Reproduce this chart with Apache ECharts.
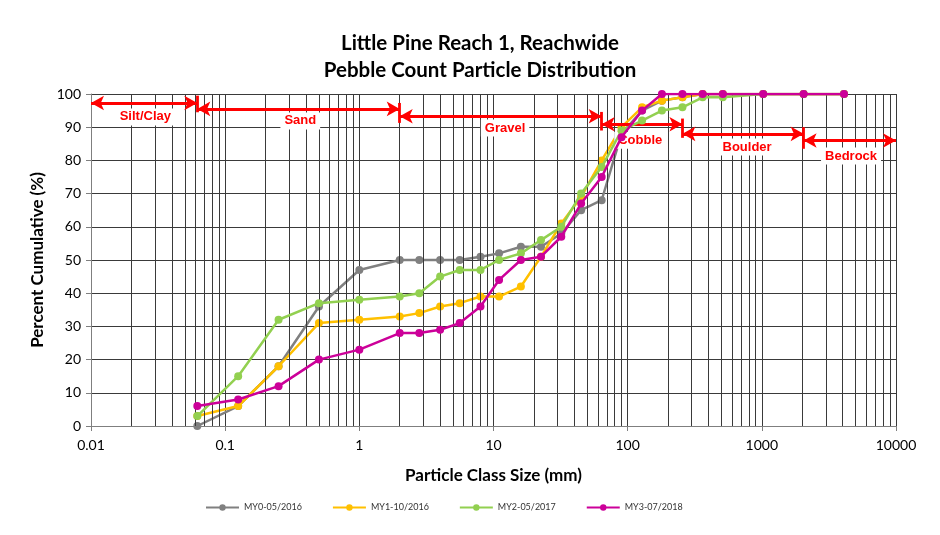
<!DOCTYPE html>
<html>
<head>
<meta charset="utf-8">
<script src="https://cdn.jsdelivr.net/npm/echarts@6/dist/echarts.min.js"></script>
<style>
  html, body { margin: 0; padding: 0; background: #fff; }
  #chart { width: 940px; height: 535px; }
</style>
</head>
<body>
<div id="chart"></div>
<script>
// Sieve sizes (mm) used for the pebble count classes
const sizes = [0.062, 0.125, 0.25, 0.5, 1, 2, 2.8, 4, 5.6, 8, 11, 16, 22.6, 32, 45, 64, 90, 128, 180, 256, 362, 512, 1024, 2048, 4096];

// Cumulative percent finer, one array per monitoring year
const my0 = [0, 6, 18, 36, 47, 50, 50, 50, 50, 51, 52, 54, 54, 58, 65, 68, 88, 95, 98, 99, 100, 100, 100, 100, 100];
const my1 = [3, 6, 18, 31, 32, 33, 34, 36, 37, 39, 39, 42, 51, 61, 69, 80, 90, 96, 98, 99, 100, 100, 100, 100, 100];
const my2 = [3, 15, 32, 37, 38, 39, 40, 45, 47, 47, 50, 52, 56, 60, 70, 78, 89, 92, 95, 96, 99, 99, 100, 100, 100];
const my3 = [6, 8, 12, 20, 23, 28, 28, 29, 31, 36, 44, 50, 51, 57, 67, 75, 87, 95, 100, 100, 100, 100, 100, 100, 100];

const seriesNames = ['MY0-05/2016', 'MY1-10/2016', 'MY2-05/2017', 'MY3-07/2018'];
const seriesColors = ['#808080', '#FFC000', '#92D050', '#CC0099'];
const seriesValues = [my0, my1, my2, my3];

const xTickLabels = ['0.01', '0.1', '1', '10', '100', '1000', '10000'];
const yTicks = [0, 10, 20, 30, 40, 50, 60, 70, 80, 90, 100];

// Size class boundaries (mm) and their names
const classNames = ['Silt/Clay', 'Sand', 'Gravel', 'Cobble', 'Boulder', 'Bedrock'];
const classBounds = [0.01, 0.062, 2, 64, 256, 2048, 10000];

// Minor log grid lines at 2..9 within every decade
const minorGrid = [];
for (let d = -2; d < 4; d++) {
  for (let m = 2; m <= 9; m++) minorGrid.push(+(m * Math.pow(10, d)).toPrecision(3));
}

const FONT = 'Lato, "Open Sans", sans-serif';
const RED = '#FF0000';

// Layout of the class annotations (arrow height, bar span, label spot)
const arrowY = [97.3, 95.5, 93.3, 90.9, 88.0, 86.0];
const barSpan = [[99.5, 94.5], [97.3, 91.3], [94.6, 89.0], [92.6, 86.8], [90.0, 83.5]];
const labelSpot = [[0.0254, 93.1], [0.363, 91.9], [12.2, 89.75], [124, 86.1], [776, 84.0], [4624, 81.3]];

const chart = echarts.init(document.getElementById('chart'), null, { renderer: 'canvas' });

const dataSeries = seriesValues.map((vals, i) => ({
  name: seriesNames[i],
  type: 'line',
  data: sizes.map((s, j) => [s, vals[j]]),
  color: seriesColors[i],
  symbol: 'circle',
  symbolSize: 8,
  lineStyle: { width: 2.5, color: seriesColors[i] },
  itemStyle: { color: seriesColors[i] },
  emphasis: { disabled: true },
  z: 3 + i
}));

const arrowLines = [];
for (let i = 0; i < classNames.length; i++) {
  arrowLines.push([
    { coord: [classBounds[i], arrowY[i]] },
    { coord: [classBounds[i + 1], arrowY[i]] }
  ]);
}
const barLines = barSpan.map((span, i) => [
  { coord: [classBounds[i + 1], span[0]], symbol: 'none' },
  { coord: [classBounds[i + 1], span[1]], symbol: 'none' }
]);

const gridLineSeries = {
  name: 'minor-grid',
  type: 'line',
  data: [],
  silent: true,
  z: 1,
  markLine: {
    silent: true,
    symbol: 'none',
    animation: false,
    label: { show: false },
    lineStyle: { color: '#3a3a3a', width: 1, type: 'solid' },
    data: minorGrid.map(v => ({ xAxis: v }))
  }
};

const annotationSeries = {
  name: 'classes',
  type: 'line',
  data: [],
  silent: true,
  z: 10,
  markLine: {
    silent: true,
    animation: false,
    symbol: ['arrow', 'arrow'],
    symbolSize: [11, 13],
    symbolOffset: 0,
    label: { show: false },
    lineStyle: { color: RED, width: 2.8, type: 'solid' },
    data: arrowLines.concat(barLines)
  },
  markPoint: {
    silent: true,
    animation: false,
    symbol: 'rect',
    symbolSize: 0,
    data: classNames.map((n, i) => ({
      name: n,
      coord: labelSpot[i],
      label: {
        show: true,
        position: 'inside',
        formatter: n,
        color: RED,
        fontFamily: 'Liberation Sans, Arial, sans-serif',
        fontWeight: 'bold',
        fontSize: 13,
        backgroundColor: '#fff',
        padding: [2, 4]
      }
    }))
  }
};

chart.setOption({
  animation: false,
  backgroundColor: '#fff',
  title: {
    text: 'Little Pine Reach 1, Reachwide\nPebble Count Particle Distribution',
    left: 475,
    top: 25,
    textAlign: 'center',
    textStyle: {
      fontFamily: FONT,
      fontWeight: 'bold',
      fontSize: 20.5,
      lineHeight: 27,
      color: '#000'
    }
  },
  legend: {
    data: seriesNames,
    bottom: 18,
    left: 200,
    itemWidth: 33,
    itemHeight: 8,
    itemGap: 30,
    textStyle: { fontFamily: FONT, fontSize: 9, color: '#333' }
  },
  grid: { left: 91, right: 44, top: 94, bottom: 109 },
  xAxis: {
    type: 'log',
    logBase: 10,
    min: 0.01,
    max: 10000,
    name: 'Particle Class Size (mm)',
    nameLocation: 'middle',
    nameGap: 41,
    nameTextStyle: { fontFamily: FONT, fontWeight: 'bold', fontSize: 17, color: '#000' },
    axisLine: { show: true, lineStyle: { color: '#7f7f7f', width: 1 } },
    axisTick: { show: true, length: 5, lineStyle: { color: '#7f7f7f' } },
    axisLabel: {
      fontFamily: FONT, fontSize: 14, color: '#000', margin: 12,
      formatter: v => {
        const k = Math.round(Math.log10(v)) + 2;
        return xTickLabels[k] !== undefined ? xTickLabels[k] : '';
      }
    },
    splitLine: { show: true, lineStyle: { color: '#3a3a3a', width: 1 } }
  },
  yAxis: {
    type: 'value',
    min: yTicks[0],
    max: yTicks[yTicks.length - 1],
    interval: 10,
    name: 'Percent Cumulative (%)',
    nameLocation: 'middle',
    nameGap: 42,
    nameTextStyle: { fontFamily: FONT, fontWeight: 'bold', fontSize: 17, color: '#000' },
    axisLine: { show: true, lineStyle: { color: '#7f7f7f', width: 1 } },
    axisTick: { show: true, length: 5, lineStyle: { color: '#7f7f7f' } },
    axisLabel: { fontFamily: FONT, fontSize: 14, color: '#000', margin: 10 },
    splitLine: { show: true, lineStyle: { color: '#3a3a3a', width: 1 } }
  },
  series: [gridLineSeries].concat(dataSeries, [annotationSeries])
});
</script>
</body>
</html>
